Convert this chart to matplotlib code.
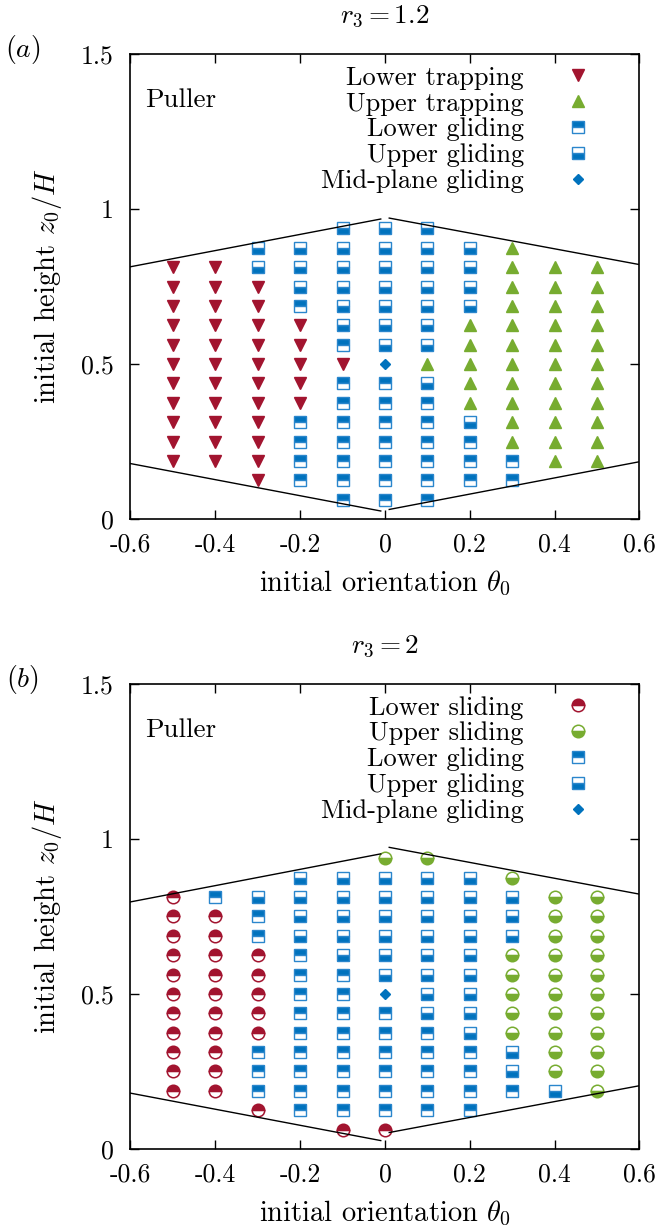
import numpy as np
import matplotlib
matplotlib.use("Agg")
import matplotlib.pyplot as plt
from matplotlib.lines import Line2D

plt.rcParams['font.family'] = 'cmr10'
plt.rcParams['mathtext.fontset'] = 'cm'
plt.rcParams['axes.unicode_minus'] = False
plt.rcParams['font.size'] = 19

red = '#a2142f'
green = '#77ac30'
blue = '#0072bd'

# grid of initial conditions
thetas = [-0.5, -0.4, -0.3, -0.2, -0.1, 0.0, 0.1, 0.2, 0.3, 0.4, 0.5]
z_rows = [0.9375, 0.875, 0.8125, 0.75, 0.6875, 0.625, 0.5625, 0.5,
          0.4375, 0.375, 0.3125, 0.25, 0.1875, 0.125, 0.0625]

# v lower trapping, ^ upper trapping, L lower gliding, U upper gliding,
# M mid-plane gliding, l lower sliding, u upper sliding
grid_a = ["....UUU....",
          "..UUUUUU^..",
          "vvUUUUUU^^^",
          "vvvUUUUU^^^",
          "vvvLUUUU^^^",
          "vvvvUUU^^^^",
          "vvvvLUU^^^^",
          "vvvvvM^^^^^",
          "vvvvLLU^^^^",
          "vvvvLLL^^^^",
          "vvvLLLLU^^^",
          "vvvLLLLL^^^",
          "vvvLLLLLL^^",
          "..vLLLLLL..",
          "....LLL...."]

grid_b = [".....uu....",
          "...UUUUUu..",
          "lLUUUUUUUuu",
          "llLUUUUUUuu",
          "llLUUUUUUuu",
          "lllLUUUUuuu",
          "lllLLUUUuuu",
          "lllLLMUUuuu",
          "lllLLLUUuuu",
          "lllLLLLUuuu",
          "llLLLLLLUuu",
          "llLLLLLLUuu",
          "llLLLLLLLUu",
          "..lLLLLL...",
          "....ll....."]

# boundary lines (left and right branches, top and bottom)
a_top_l = ([-0.6, -0.01], [0.814, 0.968])
a_top_r = ([0.01, 0.6], [0.971, 0.821])
a_bot_l = ([-0.6, -0.01], [0.179, 0.026])
a_bot_r = ([0.01, 0.6], [0.031, 0.185])
b_top_l = ([-0.6, -0.01], [0.797, 0.952])
b_top_r = ([0.01, 0.6], [0.973, 0.822])
b_bot_l = ([-0.6, -0.01], [0.180, 0.027])
b_bot_r = ([0.01, 0.6], [0.053, 0.204])

xticks = [-0.6, -0.4, -0.2, 0, 0.2, 0.4, 0.6]
xticklabels = ['-0.6', '-0.4', '-0.2', '0', '0.2', '0.4', '0.6']
yticks = [0, 0.5, 1, 1.5]
yticklabels = ['0', '0.5', '1', '1.5']

styles = {
    'v': dict(marker='v', ms=8, color=red, ls='none', mec=red),
    '^': dict(marker='^', ms=8, color=green, ls='none', mec=green),
    'L': dict(marker='s', ms=8.5, color=blue, ls='none', fillstyle='top',
              mfc=blue, mfcalt='white', mec='#2a86cc', mew=1.0),
    'U': dict(marker='s', ms=8.5, color=blue, ls='none', fillstyle='bottom',
              mfc=blue, mfcalt='white', mec='#2a86cc', mew=1.0),
    'M': dict(marker='D', ms=5.5, color=blue, ls='none', mec=blue),
    'l': dict(marker='o', ms=9, color=red, ls='none', fillstyle='top',
              mfc=red, mfcalt='white', mec=red, mew=1.1),
    'u': dict(marker='o', ms=9, color=green, ls='none', fillstyle='bottom',
              mfc=green, mfcalt='white', mec=green, mew=1.1),
}

names_a = [('v', 'Lower trapping'), ('^', 'Upper trapping'),
           ('L', 'Lower gliding'), ('U', 'Upper gliding'),
           ('M', 'Mid-plane gliding')]
names_b = [('l', 'Lower sliding'), ('u', 'Upper sliding'),
           ('L', 'Lower gliding'), ('U', 'Upper gliding'),
           ('M', 'Mid-plane gliding')]


def draw(ax, grid, lines, names, title, tag):
    for key, lab in names:
        xs, zs = [], []
        for i, row in enumerate(grid):
            for j, c in enumerate(row):
                if c == key:
                    xs.append(thetas[j])
                    zs.append(z_rows[i])
        ax.plot(xs, zs, **styles[key])
    for lx, lz in lines:
        ax.plot(lx, lz, 'k-', lw=1.0)
    ax.set_xlim(-0.6, 0.6)
    ax.set_ylim(0, 1.5)
    ax.set_xticks(xticks)
    ax.set_xticklabels(xticklabels)
    ax.set_yticks(yticks)
    ax.set_yticklabels(yticklabels)
    ax.tick_params(direction='in', top=True, right=True, length=6.5,
                   width=1, labelsize=18.5)
    ax.tick_params(axis='x', pad=10)
    ax.tick_params(axis='y', pad=12)
    for sp in ax.spines.values():
        sp.set_linewidth(1.2)
    ax.set_xlabel(r'initial orientation $\theta_0$', labelpad=9, fontsize=20.5)
    ax.set_ylabel(r'initial height $z_0/H$', labelpad=12, fontsize=20.5)
    ax.set_title(title, pad=23, fontsize=19.5)
    ax.text(-0.212, 1.01, tag, transform=ax.transAxes, ha='center',
            va='center', fontsize=20)
    ax.text(-0.565, 1.35, 'Puller', ha='left', va='center', fontsize=19.5)

    handles = [Line2D([], [], **styles[k]) for k, _ in names]
    labels = [lab for _, lab in names]
    leg = ax.legend(handles, labels, loc='upper right', frameon=False,
                    markerfirst=False, fontsize=19, handlelength=1.0,
                    handletextpad=1.55, labelspacing=0.08,
                    borderaxespad=0.05, bbox_to_anchor=(0.928, 1.0))
    try:
        vp = leg._legend_box._children[-1]._children[0]
        vp.align = 'right'
    except Exception:
        pass


fig = plt.figure(figsize=(6.59, 12.30), dpi=100)
ax1 = fig.add_axes([0.198, 0.578, 0.7724, 0.378])
ax2 = fig.add_axes([0.198, 0.0659, 0.7724, 0.378])

draw(ax1, grid_a, [a_top_l, a_top_r, a_bot_l, a_bot_r], names_a,
     r'$r_3 = 1.2$', r'$(a)$')
draw(ax2, grid_b, [b_top_l, b_top_r, b_bot_l, b_bot_r], names_b,
     r'$r_3 = 2$', r'$(b)$')

fig.savefig('out.png', dpi=100)
